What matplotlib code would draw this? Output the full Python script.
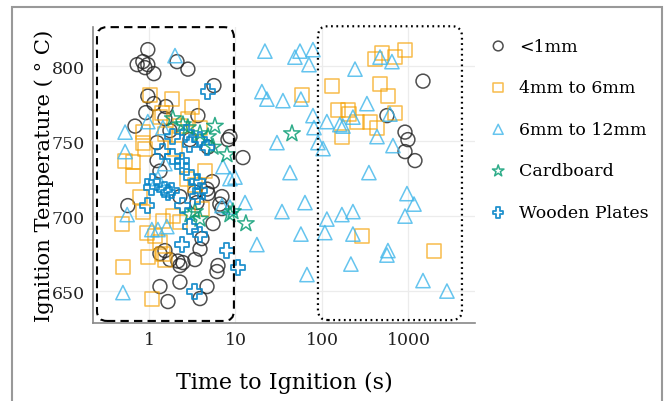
import matplotlib
matplotlib.use("Agg")
import matplotlib.pyplot as plt
from matplotlib.patches import FancyBboxPatch, Rectangle

plt.rcParams['font.family'] = 'DejaVu Serif'

# <1mm
small_time = [0.97, 0.73, 0.85, 0.97, 0.90, 1.14, 2.11, 2.82, 5.64, 0.97, 1.14, 1.57, 0.92,
              1.24, 1.24, 3.68, 8.64, 12.2, 0.57, 1.53, 1.34, 1.75, 2.16, 2.47, 2.28, 3.40,
              3.89, 4.10, 5.50, 6.98, 6.98, 4.81, 3.40, 2.28, 1.34, 2.28, 1.66, 3.89, 4.69,
              6.28, 6.11, 2.98, 8.19, 4.81, 5.40, 4.69, 3.59, 6.60, 0.69, 1.34, 1.75, 1.53,
              1472, 564, 912, 986, 912, 1189]
small_temp = [811, 801, 803, 801, 799, 795, 803, 798, 787, 780, 775, 773, 769,
              749, 737, 767, 753, 739, 707, 677, 675, 671, 670, 669, 667, 671,
              678, 685, 695, 705, 713, 715, 716, 713, 653, 656, 643, 645, 653,
              667, 663, 751, 751, 746, 723, 718, 709, 708, 760, 730, 757, 765,
              790, 767, 756, 751, 743, 737]

# 4mm to 6mm
mid_time = [1.03, 1.84, 3.14, 1.41, 1.34, 0.85, 0.85, 0.53, 0.65, 0.65, 2.28, 2.82, 4.44,
            2.75, 0.79, 0.90, 0.49, 0.95, 1.17, 0.97, 0.50, 1.08, 1.45, 0.85, 1.45, 1.89,
            2.28, 4.10, 1.34, 1.53, 1.53, 2.0, 3.89, 3.40,
            494, 410, 698, 912, 131, 469, 579, 58.7, 698, 153, 200, 205, 359, 433, 254,
            170, 290, 1972]
mid_temp = [781, 778, 773, 769, 766, 756, 749, 737, 736, 727, 760, 765, 730,
            725, 713, 745, 695, 689, 687, 673, 666, 645, 675, 703, 697, 700,
            696, 705, 683, 671, 755, 745, 759, 721,
            809, 805, 806, 811, 787, 788, 780, 781, 769, 771, 771, 768, 763, 759, 763,
            753, 687, 677]

# 6mm to 12mm
large_time = [21.9, 48.7, 55.7, 78.7, 70.8, 241, 20.2, 23.1, 35.4, 57.1, 78.7, 114, 80.9,
              161, 175, 228, 331, 469, 644, 611, 30.2, 89.9, 103, 433, 662, 42.7, 349,
              961, 1159, 912, 12.9, 34.5, 63.6, 114, 170, 228, 108, 228, 57.1, 17.7, 579,
              564, 216, 67.1, 1472, 2786, 9.87,
              2.0, 0.53, 0.53, 0.97, 1.45, 7.17, 8.64, 6.98, 8.64, 0.50, 0.56, 1.08, 1.27,
              1.61, 1.53, 1.27]
large_temp = [810, 806, 810, 811, 801, 798, 783, 778, 777, 778, 767, 763, 759,
              761, 760, 766, 775, 806, 803, 768, 749, 749, 745, 753, 747, 729, 729,
              715, 708, 700, 709, 703, 709, 698, 701, 703, 689, 688, 688, 681, 677,
              674, 668, 661, 657, 650, 726,
              807, 756, 743, 763, 759, 733, 725, 707, 706, 649, 701, 691, 691,
              693, 735, 725]

# Cardboard
card_time = [45.0, 13.2, 9.35, 1.89, 2.47, 2.82, 5.79, 4.81, 7.98, 5.50, 2.98, 3.40, 3.89,
             8.64, 3.89]
card_temp = [755, 695, 703, 765, 761, 759, 760, 753, 741, 746, 701, 703, 698,
             701, 755]

# Wooden Plates
wood_time = [4.81, 1.08, 1.53, 0.95, 2.98, 3.89, 2.41, 1.89, 3.14, 3.68, 3.89, 4.69, 1.84,
             2.47, 2.98, 2.41, 3.89, 7.98, 10.7, 3.40, 1.11, 1.66, 3.68, 1.89, 2.75, 1.45,
             2.41]
wood_temp = [783, 719, 718, 707, 748, 751, 737, 740, 726, 723, 717, 746, 717,
             707, 693, 681, 688, 677, 666, 650, 723, 716, 713, 753, 756, 743,
             733]

fig = plt.figure(figsize=(6.65, 4.02), dpi=100)
ax = fig.add_axes([0.1398, 0.194, 0.5744, 0.736])

ax.scatter(small_time, small_temp, s=100, marker='o', facecolors='none',
           edgecolors='#222222', linewidths=1.1, alpha=0.8, label='<1mm')
ax.scatter(mid_time, mid_temp, s=100, marker='s', facecolors='none',
           edgecolors='#F5A000', linewidths=1.1, alpha=0.7, label='4mm to 6mm')
ax.scatter(large_time, large_temp, s=105, marker='^', facecolors='none',
           edgecolors='#3FB6EA', linewidths=1.1, alpha=0.8, label='6mm to 12mm')
ax.scatter(card_time, card_temp, s=155, marker='*', facecolors='none',
           edgecolors='#0A9E75', linewidths=1.1, alpha=0.85, label='Cardboard')
ax.scatter(wood_time, wood_temp, s=115, marker='P', facecolors='none',
           edgecolors='#0A86C8', linewidths=1.3, alpha=0.9, label='Wooden Plates')

ax.set_xscale('log')
ax.set_xlim(0.2253, 5870)
ax.set_ylim(628.7, 826)
ax.set_xticks([1, 10, 100, 1000])
ax.set_xticklabels(['1', '10', '100', '1000'])
ax.minorticks_off()
ax.set_yticks([650, 700, 750, 800])
ax.tick_params(length=0, labelsize=12.5, pad=6, colors='#222222')
ax.grid(True, color='#ececec', linewidth=0.9)
ax.set_axisbelow(True)
for side in ['top', 'right']:
    ax.spines[side].set_visible(False)
for side in ['left', 'bottom']:
    ax.spines[side].set_color('#888888')
    ax.spines[side].set_linewidth(1.2)

ax.set_xlabel('Time to Ignition (s)', fontsize=16, labelpad=16)
ax.set_ylabel('Ignition Temperature ( ° C)', fontsize=15.2, labelpad=-2)

# highlight boxes
dashed = FancyBboxPatch((0.0105, 0.007), 0.3585, 0.993,
                        boxstyle='round,pad=0,rounding_size=0.026', mutation_aspect=1.3,
                        transform=ax.transAxes, fill=False, edgecolor='black',
                        linewidth=1.5, linestyle=(0, (4, 2.5)), clip_on=False)
dotted = FancyBboxPatch((0.589, 0.01), 0.377, 0.993,
                        boxstyle='round,pad=0,rounding_size=0.026', mutation_aspect=1.3,
                        transform=ax.transAxes, fill=False, edgecolor='black',
                        linewidth=1.6, linestyle=(0, (0.8, 1.6)), clip_on=False)
ax.add_patch(dashed)
ax.add_patch(dotted)

fig.legend(loc='upper left', bbox_to_anchor=(0.71, 0.943), frameon=False,
           fontsize=12.5, markerscale=0.7, handletextpad=0.6, labelspacing=1.42,
           handlelength=1.2)

fig.patches.append(Rectangle((0.018, -0.1), 0.9775, 1.08, transform=fig.transFigure,
                             fill=False, edgecolor='#999999', linewidth=1.5))

fig.savefig('out.png', dpi=100)
